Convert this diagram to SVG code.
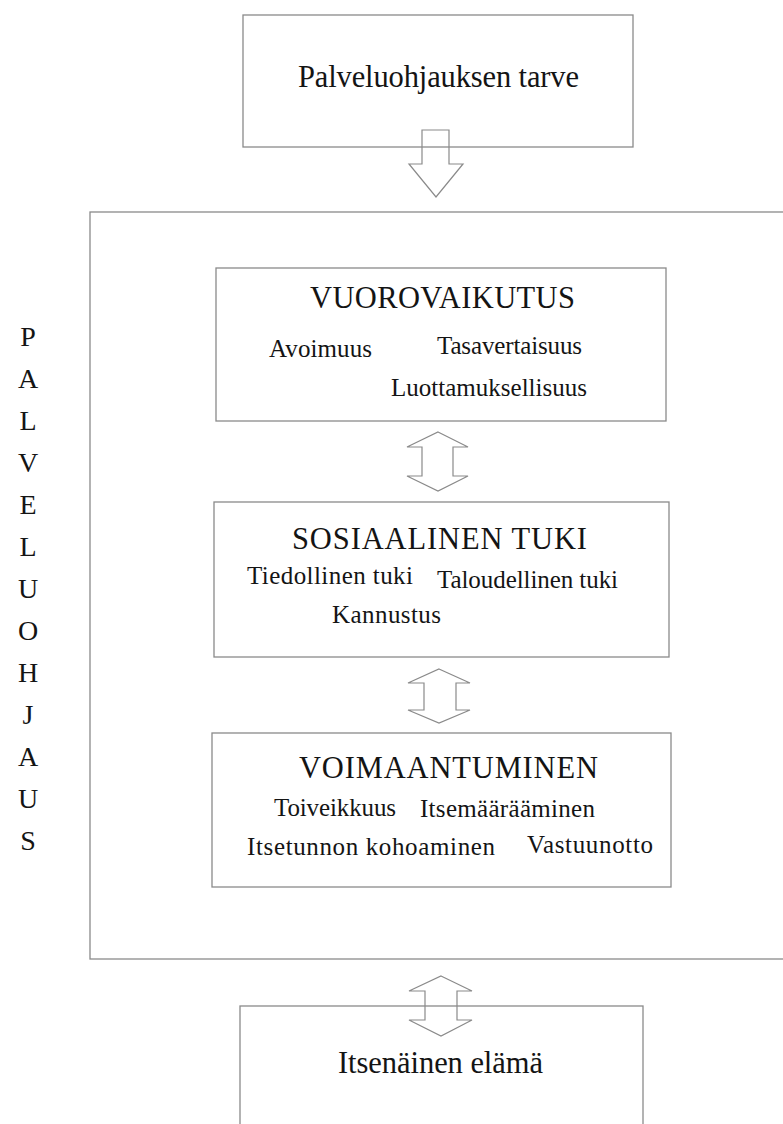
<svg xmlns="http://www.w3.org/2000/svg" width="783" height="1124" viewBox="0 0 783 1124">
<style>
  .box { fill: none; stroke: #8a8a8a; stroke-width: 1.3; }
  .arr { fill: none; stroke: #8a8a8a; stroke-width: 1.2; stroke-linejoin: miter; }
  text { font-family: "Liberation Serif", "DejaVu Serif", serif; fill: #141414; }
  .t30 { font-size: 30.5px; }
  .title { font-size: 30.5px; }
  .item { font-size: 25px; }
  .vert { font-size: 28px; text-anchor: middle; }
</style>
<rect width="783" height="1124" fill="#ffffff"/>

<g id="main-frame">
  <rect class="box" x="90" y="212" width="710" height="747"/>
  <g id="side-label">
    <text class="vert" x="28" y="346">P</text>
    <text class="vert" x="28" y="388">A</text>
    <text class="vert" x="28" y="430">L</text>
    <text class="vert" x="28" y="472">V</text>
    <text class="vert" x="28" y="514">E</text>
    <text class="vert" x="28" y="556">L</text>
    <text class="vert" x="28" y="598">U</text>
    <text class="vert" x="28" y="640">O</text>
    <text class="vert" x="28" y="682">H</text>
    <text class="vert" x="28" y="724">J</text>
    <text class="vert" x="28" y="766">A</text>
    <text class="vert" x="28" y="808">U</text>
    <text class="vert" x="28" y="850">S</text>
  </g>
</g>

<g id="node-tarve">
  <rect class="box" x="243" y="15" width="390" height="132"/>
  <text class="t30" x="298" y="87" textLength="281">Palveluohjauksen tarve</text>
</g>

<g id="node-vuorovaikutus">
  <rect class="box" x="216" y="268" width="450" height="153"/>
  <text class="title" x="310" y="308" textLength="265">VUOROVAIKUTUS</text>
  <text class="item" x="269" y="357" textLength="103">Avoimuus</text>
  <text class="item" x="437" y="354" textLength="145">Tasavertaisuus</text>
  <text class="item" x="391" y="396" textLength="196">Luottamuksellisuus</text>
</g>

<g id="node-sosiaalinen-tuki">
  <rect class="box" x="214" y="502" width="455" height="155"/>
  <text class="title" x="292" y="549" textLength="295">SOSIAALINEN TUKI</text>
  <text class="item" x="247" y="584" textLength="166">Tiedollinen tuki</text>
  <text class="item" x="437" y="588" textLength="181">Taloudellinen tuki</text>
  <text class="item" x="332" y="623" textLength="109">Kannustus</text>
</g>

<g id="node-voimaantuminen">
  <rect class="box" x="212" y="733" width="459" height="154"/>
  <text class="title" x="299" y="778" textLength="299">VOIMAANTUMINEN</text>
  <text class="item" x="274" y="816" textLength="122">Toiveikkuus</text>
  <text class="item" x="420" y="817" textLength="175">Itsemäärääminen</text>
  <text class="item" x="247" y="855" textLength="248">Itsetunnon kohoaminen</text>
  <text class="item" x="527" y="853" textLength="126">Vastuunotto</text>
</g>

<g id="node-itsenainen-elama">
  <rect class="box" x="240" y="1006" width="403" height="130"/>
  <text class="t30" x="338" y="1073" textLength="205">Itsenäinen elämä</text>
</g>

<g id="connectors">
  <polygon class="arr" points="422,130 449,130 449,164 463,164 436,197 409,164 422,164"/>
  <polygon class="arr" points="438,432 468,447 453,447 453,476 468,476 438,491 407,476 422,476 422,447 407,447"/>
  <polygon class="arr" points="439,669 470,683 456,683 456,710 470,710 439,723 408,710 424,710 424,683 408,683"/>
  <polygon class="arr" points="441,976 472,991 457,991 457,1020 472,1020 441,1036 409,1020 425,1020 425,991 409,991"/>
</g>
</svg>
